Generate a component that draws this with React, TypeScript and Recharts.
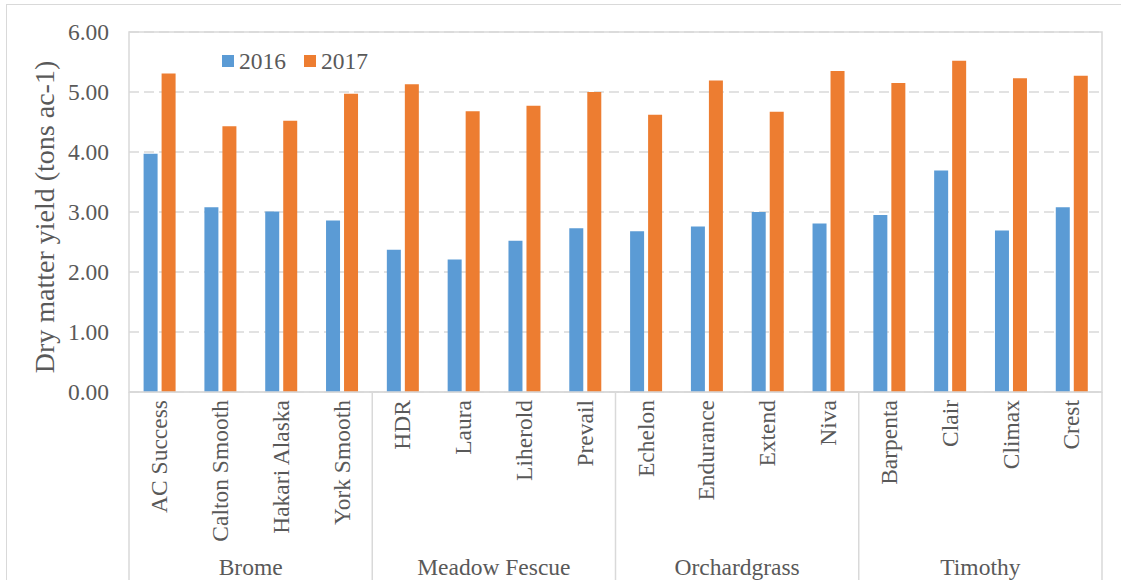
import React from "react";
import {
  BarChart,
  Bar,
  XAxis,
  YAxis,
  CartesianGrid,
  Legend,
  ReferenceArea,
} from "recharts";

const varieties = [
  "AC Success", "Calton Smooth", "Hakari Alaska", "York Smooth",
  "HDR", "Laura", "Liherold", "Prevail",
  "Echelon", "Endurance", "Extend", "Niva",
  "Barpenta", "Clair", "Climax", "Crest",
];
const species = [
  "Brome", "Brome", "Brome", "Brome",
  "Meadow Fescue", "Meadow Fescue", "Meadow Fescue", "Meadow Fescue",
  "Orchardgrass", "Orchardgrass", "Orchardgrass", "Orchardgrass",
  "Timothy", "Timothy", "Timothy", "Timothy",
];
const yield2016 = [3.97, 3.08, 3.01, 2.86, 2.37, 2.21, 2.52, 2.73, 2.68, 2.76, 3.0, 2.81, 2.95, 3.69, 2.69, 3.08];
const yield2017 = [5.31, 4.43, 4.52, 4.97, 5.13, 4.68, 4.77, 5.0, 4.62, 5.19, 4.67, 5.35, 5.15, 5.52, 5.23, 5.27];
const yTicks = [0, 1, 2, 3, 4, 5, 6];
const seriesNames = ["2016", "2017"];
const yTitle = "Dry matter yield (tons ac-1)";

const data = varieties.map((v, i) => ({
  variety: v,
  species: species[i],
  y2016: yield2016[i],
  y2017: yield2017[i],
}));

const FONT = "Liberation Serif";
const TEXT = "#595959";
const LINE = "#d9d9d9";
const BLUE = "#5B9BD5";
const ORANGE = "#ED7D31";

const CategoryTick = (props: any) => {
  const { x, y, payload, index, width, visibleTicksCount } = props;
  const half =
    payload && typeof payload.offset === "number" && payload.offset > 0
      ? payload.offset
      : width / (visibleTicksCount || varieties.length) / 2;
  const axisY = y - 8;
  const sp = species[index];
  const isGroupStart = index === 0 || species[index - 1] !== sp;
  const isLast = index === varieties.length - 1;
  const count = species.filter((s) => s === sp).length;
  return (
    <g>
      <text
        transform={`translate(${x},${y}) rotate(-90)`}
        textAnchor="end"
        dy="0.33em"
        fontSize={23.5}
        style={{ fontFamily: FONT }}
        fill={TEXT}
      >
        {payload.value}
      </text>
      {isGroupStart && (
        <>
          <line x1={x - half} x2={x - half} y1={axisY} y2={580} stroke={LINE} strokeWidth={1.5} />
          <text
            x={x - half + count * half}
            y={axisY + 183}
            textAnchor="middle"
            fontSize={23.5}
            style={{ fontFamily: FONT }}
            fill={TEXT}
          >
            {sp}
          </text>
        </>
      )}
      {isLast && (
        <line x1={x + half} x2={x + half} y1={axisY} y2={580} stroke={LINE} strokeWidth={1.5} />
      )}
    </g>
  );
};

const YTick = (props: any) => {
  const { x, y, payload } = props;
  return (
    <text x={x} y={y} dy="0.33em" textAnchor="end" fontSize={23.5} style={{ fontFamily: FONT }} fill={TEXT}>
      {Number(payload.value).toFixed(2)}
    </text>
  );
};

const LegendContent = (props: any) => {
  const items = props.payload || [];
  return (
    <div style={{ display: "flex", alignItems: "center", fontFamily: FONT, fontSize: 23.5, color: TEXT, lineHeight: "26px" }}>
      {items.map((it: any, i: number) => (
        <div key={i} style={{ display: "flex", alignItems: "center", marginRight: 18 }}>
          <span style={{ display: "inline-block", width: 12, height: 12, background: it.color, marginRight: 5 }} />
          <span>{it.value}</span>
        </div>
      ))}
    </div>
  );
};

export default function App() {
  return (
    <div style={{ position: "absolute", left: 0, top: 0, width: 1121, height: 580, background: "#fff", overflow: "hidden" }}>
      <div
        style={{
          position: "absolute",
          left: 6,
          top: 4,
          width: 1115,
          height: 576,
          boxSizing: "border-box",
          borderLeft: `1.5px solid ${LINE}`,
          borderTop: `1.5px solid ${LINE}`,
        }}
      />
      <BarChart
        width={1121}
        height={580}
        data={data}
        margin={{ top: 32, right: 19, left: 0, bottom: 0 }}
        barCategoryGap="24%"
        barGap={4}
        style={{ position: "absolute", left: 0, top: 0 }}
      >
        <CartesianGrid vertical={false} stroke={LINE} strokeWidth={1.5} strokeDasharray="10 5" />
        <XAxis
          dataKey="variety"
          interval={0}
          height={188}
          tickSize={0}
          tickMargin={8}
          axisLine={{ stroke: LINE, strokeWidth: 1.5 }}
          tickLine={false}
          tick={<CategoryTick />}
        />
        <YAxis
          domain={[0, 6]}
          ticks={yTicks}
          width={129}
          tickSize={0}
          tickMargin={20}
          axisLine={false}
          tickLine={false}
          tick={<YTick />}
          label={(p: any) => (
            <text
              transform={`translate(45,217) rotate(-90)`}
              textAnchor="middle"
              dy="0.33em"
              fontSize={28}
              style={{ fontFamily: FONT }}
              fill={TEXT}
            >
              {yTitle}
            </text>
          )}
        />
        <ReferenceArea y1={0} y2={6} fill="none" stroke={LINE} strokeWidth={1.5} ifOverflow="visible" />
        <Legend
          layout="horizontal"
          verticalAlign="middle"
          align="center"
          content={<LegendContent />}
          wrapperStyle={{ position: "absolute", left: 222, top: 48, width: "auto", height: "auto" }}
        />
        <Bar dataKey="y2016" name={seriesNames[0]} fill={BLUE} isAnimationActive={false} />
        <Bar dataKey="y2017" name={seriesNames[1]} fill={ORANGE} isAnimationActive={false} />
      </BarChart>
    </div>
  );
}
